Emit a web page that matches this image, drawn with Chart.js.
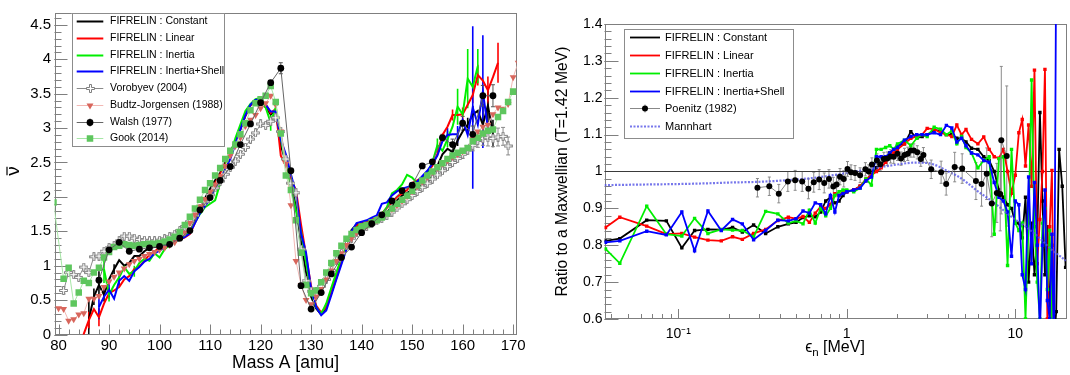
<!DOCTYPE html>
<html>
<head>
<meta charset="utf-8">
<title>Neutron multiplicity and spectrum ratio</title>
<script src="https://cdn.jsdelivr.net/npm/chart.js@4.4.1/dist/chart.umd.min.js"></script>
<style>
  body { margin: 0; background: #fff; }
  #page { position: relative; width: 1070px; height: 375px; }
  #massChart { position: absolute; left: 0; top: 0; }
  #ratioChart { position: absolute; left: 540px; top: 0; }
</style>
</head>
<body>
<div id="page">
  <canvas id="massChart" width="540" height="375"></canvas>
  <canvas id="ratioChart" width="530" height="375"></canvas>
</div>
<script>
// ---------- left panel : nu-bar versus fragment mass ----------
const massA = [79,80,81,82,83,84,85,86,87,88,89,90,91,92,93,94,95,96,97,98,99,100,101,102,103,104,105,106,107,108,
  109,110,111,112,113,114,115,116,117,118,119,120,121,122,123,124,125,126,127,128,129,130,131,132,133,134,135,136,137,138,
  139,140,141,142,143,144,145,146,147,148,149,150,151,152,153,154,155,156,157,158,159,160,161,162,163,164,165,166,167,168,
  169,170,171];

const constantNu = [null,null,null,null,null,null,null,0.22,0.55,0.72,
  0.58,0.80,0.95,1.08,1.00,1.04,1.14,1.14,1.21,1.26,
  1.27,1.28,1.30,1.33,1.36,1.39,1.42,1.48,1.65,1.82,
  1.98,2.12,2.24,2.35,2.50,2.65,2.80,2.98,3.18,3.33,
  3.40,3.38,3.30,3.20,3.25,2.75,2.50,2.20,1.85,1.35,
  0.90,0.55,0.38,0.29,0.40,0.60,0.84,1.06,1.28,1.52,
  1.60,1.62,1.63,1.65,1.68,1.72,1.78,1.85,1.95,2.02,
  2.06,2.10,2.12,2.18,2.22,2.30,2.45,2.62,2.70,2.65,
  2.82,2.95,3.05,3.20,3.25,3.05,3.33,2.92,null,null,
  null,null,null];
const linearNu = [null,null,null,null,null,-0.30,0.01,0.21,0.37,0.25,
  0.45,0.60,0.64,0.69,0.80,0.85,0.95,0.99,1.07,1.16,
  1.21,1.26,1.28,1.31,1.35,1.38,1.41,1.46,1.62,1.78,
  1.92,2.06,2.20,2.33,2.47,2.62,2.80,2.99,3.18,3.33,
  3.40,3.40,3.35,3.22,3.28,2.60,2.45,2.25,2.10,1.60,
  1.15,0.70,0.42,0.32,0.40,0.60,0.82,1.05,1.25,1.45,
  1.58,1.62,1.64,1.67,1.70,1.76,1.84,1.92,2.00,2.05,
  2.10,2.20,2.24,2.28,2.36,2.45,2.62,2.90,3.02,3.19,
  3.19,3.20,3.34,3.48,3.77,3.69,3.55,3.74,3.95,null,
  null,null,null];
const inertiaNu = [null,null,null,null,null,null,null,null,null,null,
  0.95,0.58,0.72,0.83,0.98,0.88,0.92,1.04,1.10,1.07,
  1.18,1.12,1.24,1.30,1.34,1.38,1.44,1.50,1.63,1.75,
  1.85,1.90,1.95,2.20,2.45,2.62,2.85,3.05,3.25,3.35,
  3.42,3.44,3.30,3.08,3.30,2.85,2.50,2.15,1.80,1.50,
  1.05,0.62,0.40,0.30,0.45,0.68,0.90,1.12,1.30,1.45,
  1.55,1.60,1.62,1.64,1.68,1.75,1.85,2.05,2.10,2.18,
  2.32,2.28,2.20,2.25,2.35,2.50,2.75,2.67,2.84,3.02,
  3.31,3.20,3.72,3.60,3.90,null,null,null,null,null,
  null,null,null];
const shellNu = [null,null,null,null,null,null,null,null,null,0.40,
  0.55,0.65,0.52,0.78,0.85,0.78,0.92,0.98,1.06,1.10,
  1.18,1.22,1.27,1.31,1.35,1.38,1.42,1.47,1.62,1.76,
  1.87,1.97,2.12,2.26,2.41,2.55,2.77,2.98,3.19,3.34,
  3.41,3.42,3.34,3.24,3.24,2.83,2.62,2.33,2.05,1.47,
  1.19,0.66,0.40,0.28,0.35,0.57,0.80,1.02,1.24,1.50,
  1.62,1.64,1.66,1.70,1.73,1.90,1.92,2.02,2.08,2.12,
  2.14,2.16,2.22,2.30,2.38,2.48,2.60,2.81,2.90,2.91,
  2.91,3.12,2.90,3.30,3.05,3.53,3.00,null,null,null,
  null,null,null];
const vorobyevNu = [null,null,0.64,0.90,0.87,0.83,0.98,0.90,1.13,1.14,
  1.21,1.26,1.29,1.36,1.43,1.43,1.40,1.38,1.37,1.36,
  1.36,1.37,1.39,1.42,1.46,1.51,1.57,1.64,1.73,1.83,
  1.93,2.03,2.13,2.23,2.33,2.43,2.52,2.62,2.72,2.84,
  2.93,3.06,3.04,3.10,3.15,2.95,2.55,2.20,2.06,1.24,
  0.78,0.63,0.62,0.70,0.80,0.93,1.07,1.18,1.30,1.40,
  1.48,1.53,1.57,1.61,1.65,1.69,1.73,1.78,1.84,1.90,
  1.96,2.02,2.08,2.14,2.20,2.26,2.32,2.38,2.44,2.50,
  2.56,2.62,2.68,2.75,2.82,2.85,2.86,2.85,2.87,2.88,
  2.74,null,null];
const budtzNu = [null,0.38,0.37,0.20,0.22,0.29,0.31,0.52,0.52,0.56,
  0.69,0.77,0.84,0.90,0.96,1.02,1.07,1.10,1.14,1.17,
  1.20,1.23,1.26,1.30,1.34,1.40,1.48,1.62,1.74,1.86,
  1.97,2.07,2.18,2.30,2.45,2.60,2.74,2.86,3.03,3.12,
  3.19,3.29,3.36,3.47,3.34,2.95,2.48,1.88,1.07,0.72,
  0.50,0.44,0.55,0.66,0.80,0.93,1.07,1.18,1.30,1.40,
  1.48,1.54,1.58,1.62,1.66,1.71,1.76,1.82,1.88,1.94,
  2.01,2.08,2.15,2.22,2.29,2.36,2.42,2.48,2.53,2.58,
  2.62,2.66,2.72,2.84,2.95,3.02,3.05,3.20,3.30,3.28,
  3.35,3.74,3.95];
const gookNu = [1.92,null,0.81,0.97,0.45,0.61,0.78,0.75,0.90,0.97,
  1.12,1.20,1.27,1.29,1.31,1.30,1.29,1.30,1.31,1.32,
  1.32,1.33,1.35,1.38,1.42,1.49,1.59,1.71,1.83,1.96,
  2.10,2.20,2.31,2.42,2.55,2.67,2.76,2.91,3.07,3.26,
  3.36,3.42,3.47,3.61,3.38,2.92,2.31,2.10,1.66,1.19,
  0.72,0.60,0.64,0.76,0.90,1.04,1.18,1.29,1.39,1.46,
  1.52,1.57,1.59,1.63,1.66,1.70,1.76,1.83,1.90,1.96,
  2.02,2.09,2.17,2.24,2.31,2.37,2.43,2.49,2.55,2.60,
  2.64,2.67,2.71,2.81,2.86,2.92,2.96,2.98,3.16,3.25,
  3.38,3.53,null];
const walshA = [88,90,92,94,96,98,100,102,104,106,108,110,112,114,116,118,120,122,124,126,
  128,130,132,134,136,138,140,142,144,146,148,150,152,154,156,158,160,162,164,166];
const walshNu = [0.79,1.23,1.34,1.21,1.24,1.26,1.28,1.31,1.40,1.51,1.81,1.99,2.24,2.44,2.76,3.06,3.37,3.66,3.87,2.38,
  0.71,0.37,0.61,0.88,1.12,1.27,1.48,1.61,1.74,1.94,2.09,2.17,2.45,2.51,2.86,2.76,3.07,2.91,3.47,3.47];

// visible error bars: [A, half-length]
const constantErr = [[86,0.27],[87,0.12],[88,0.2],[89,0.1],[91,0.07],[159,0.08],[161,0.1],[162,0.12],[164,0.3],[165,0.25],[166,0.2]];
const linearErr = [[84,0.3],[86,0.12],[88,0.13],[90,0.08],[158,0.08],[160,0.1],[162,0.12],[163,0.15],[165,0.2],[167,0.29]];
const inertiaErr = [[89,0.2],[90,0.1],[95,0.08],[122,0.12],[155,0.1],[157,0.12],[159,0.26],[161,0.43],[163,0.25]];
const shellErr = [[88,0.18],[90,0.1],[92,0.08],[124,0.1],[157,0.1],[159,0.12],[162,1.18],[164,0.82]];
const vorobyevErr = [[81,0.05],[90,0.03],[100,0.03],[160,0.06],[162,0.08],[163,0.1],[164,0.1],[165,0.12],[166,0.12],[167,0.13],[168,0.13],[169,0.13]];
const walshErr = [[124,0.08],[156,0.05],[158,0.08],[160,0.1],[162,0.12],[164,0.15],[166,0.16]];

const massTicks = [80,90,100,110,120,130,140,150,160,170];
const nuTicks = [0,0.5,1,1.5,2,2.5,3,3.5,4,4.5];

// ---------- right panel : PFNS ratio to a Maxwellian ----------
const energyGrid = [0.037,0.045,0.065,0.085,0.105,0.125,0.15,0.18,0.21,0.24,
  0.28,0.33,0.39,0.45,0.5,0.55,0.6,0.65,0.7,0.75,
  0.8,0.85,0.9,0.95,1.0,1.1,1.2,1.3,1.4,1.5,
  1.6,1.7,1.8,1.9,2.0,2.2,2.4,2.6,2.8,3.0,
  3.3,3.6,3.9,4.2,4.5,4.8,5.1,5.5,6.0,6.5,
  7.0,7.5,8.0,8.5,9.0,9.5,10.0,10.5,11.0,11.5,
  12.0,12.5,13.0,13.5,14.0,14.5,15.0,15.5,16.0,16.5,
  17.0,17.5,18.2,19.0,19.9];
const constantRatio = [0.812,0.818,0.868,0.866,0.793,0.840,0.843,0.842,0.848,0.836,
  0.855,0.832,0.850,0.858,0.862,0.875,0.880,0.877,0.890,0.920,
  0.930,0.915,0.920,0.935,0.945,0.950,0.960,0.975,0.990,1.010,
  1.020,1.035,1.050,1.060,1.070,1.075,1.108,1.090,1.095,1.100,
  1.113,1.110,1.100,1.100,1.090,1.090,1.080,1.063,1.060,1.040,
  1.030,1.000,0.950,0.930,0.910,0.900,0.86,0.86,0.82,0.93,
  0.70,0.86,0.72,0.82,1.16,0.92,0.72,0.85,0.60,0.80,
  0.55,0.62,1.06,0.96,0.74];
const linearRatio = [0.848,0.876,0.852,0.830,0.832,0.822,0.814,0.812,0.823,0.816,
  0.832,0.843,0.867,0.876,0.872,0.878,0.862,0.887,0.905,0.900,
  0.910,0.940,0.935,0.945,0.945,0.950,0.960,0.980,0.990,1.000,
  1.010,1.025,1.040,1.050,1.060,1.075,1.090,1.095,1.100,1.117,
  1.115,1.105,1.100,1.095,1.126,1.100,1.114,1.087,1.075,1.094,
  1.060,1.040,1.036,1.060,1.000,0.941,0.990,1.105,1.141,1.015,
  1.126,0.960,1.275,0.750,0.870,1.000,1.277,0.600,0.850,1.003,
  0.500,null,null,null,null];
const inertiaRatio = [0.790,0.751,0.906,0.830,0.825,0.873,0.832,0.843,0.841,0.840,
  0.823,0.892,0.885,0.860,0.866,0.858,0.895,0.860,0.900,0.880,
  0.900,0.935,0.945,0.950,0.950,0.945,0.955,0.980,0.963,1.060,
  1.060,1.065,1.070,1.060,1.075,1.085,1.070,1.090,1.100,1.095,
  1.120,1.115,1.100,1.110,1.075,1.095,1.065,1.050,1.010,1.030,
  1.040,0.830,1.035,1.040,0.745,1.060,0.86,0.84,0.86,0.60,
  0.86,1.248,0.85,0.70,0.60,0.86,0.90,0.68,0.84,0.58,
  0.55,null,null,null,null];
const shellRatio = [0.808,0.812,0.838,0.828,0.890,0.785,0.893,0.840,0.870,0.858,
  0.815,0.840,0.868,0.866,0.872,0.893,0.887,0.915,0.910,0.885,
  0.935,0.890,0.935,0.940,0.945,0.950,0.955,0.975,0.985,1.040,
  1.040,1.040,1.050,1.060,1.065,1.085,1.095,1.100,1.100,1.100,
  1.105,1.100,1.125,1.118,1.080,1.090,1.070,1.050,1.045,1.030,
  1.025,0.970,0.930,0.920,0.890,0.770,0.92,0.91,0.72,0.68,
  0.985,0.75,0.97,0.80,0.56,0.80,0.95,0.65,0.60,0.83,
  0.50,1.60,null,null,null];
const poenitzE = [0.295,0.347,0.395,0.447,0.494,0.544,0.592,0.637,0.686,0.735,
  0.784,0.832,0.87,0.912,0.96,1.01,1.06,1.12,1.2,1.29,
  1.35,1.41,1.51,1.58,1.66,1.74,1.82,1.9,2.0,2.1,
  2.2,2.3,2.4,2.5,2.62,2.75,2.85,3.17,3.63,3.89,
  4.37,4.84,5.84,6.31,6.77,7.25,7.77,8.14,8.26,8.9];
const poenitzR = [0.956,0.960,0.940,0.973,0.976,0.973,0.953,0.971,0.978,0.969,
  0.980,0.959,0.965,0.986,0.980,1.007,0.998,0.996,0.990,1.006,
  1.000,1.019,1.030,1.020,1.034,1.035,1.041,1.040,1.048,1.035,
  1.045,1.048,1.057,1.057,1.052,1.034,1.045,1.006,0.998,0.966,
  1.012,1.008,0.974,0.966,0.994,0.913,0.942,0.939,1.085,1.042];
const poenitzErr = [0.025,0.025,0.025,0.027,0.027,0.027,0.027,0.027,0.027,0.027,
  0.025,0.025,0.025,0.022,0.022,0.02,0.02,0.02,0.02,0.018,
  0.018,0.018,0.018,0.018,0.018,0.018,0.018,0.018,0.018,0.018,
  0.018,0.018,0.018,0.018,0.018,0.02,0.02,0.025,0.03,0.03,
  0.04,0.04,0.05,0.06,0.07,0.09,0.08,0.1,0.2,0.19];
const mannhartE = [0.0365,0.05,0.07,0.1,0.15,0.2,0.3,0.4,0.5,0.7,1.0,1.3,1.6,2.0,2.5,
  3.0,3.5,4.0,4.6,5.3,6.0,7.0,8.0,9.5,11,12.6,14.5,16.5,18.6,20];
const mannhartR = [0.963,0.964,0.965,0.966,0.968,0.970,0.972,0.975,0.978,0.985,0.996,1.005,1.012,1.019,1.024,
  1.023,1.014,1.000,0.986,0.966,0.946,0.925,0.905,0.877,0.857,0.837,0.812,0.787,0.769,0.758];
const unityE = [0.0365, 20];
const unityR = [1, 1];

const energyTicks = [0.1, 1, 10];
const ratioTicks = [0.6,0.7,0.8,0.9,1,1.1,1.2,1.3,1.4];

// ---------- helpers ----------
const FONT = '"Liberation Sans", Arial, Helvetica, sans-serif';
Chart.defaults.font.family = FONT;
Chart.defaults.color = '#000';

function pairs(xs, ys) {
  return xs.map((x, i) => ({ x: x, y: ys[i] })).filter(p => p.y !== null);
}

// ROOT style open cross marker
function openCross(size, col) {
  const c = document.createElement('canvas');
  c.width = c.height = size;
  const g = c.getContext('2d');
  const a = Math.floor(size / 2) - 1 + 0.5, b = Math.floor(size / 2) + 1 + 0.5, e = size - 0.5;
  g.beginPath();
  g.moveTo(a, 0.5); g.lineTo(b, 0.5); g.lineTo(b, a); g.lineTo(e, a); g.lineTo(e, b); g.lineTo(b, b);
  g.lineTo(b, e); g.lineTo(a, e); g.lineTo(a, b); g.lineTo(0.5, b); g.lineTo(0.5, a); g.lineTo(a, a);
  g.closePath();
  g.fillStyle = '#fff'; g.fill();
  g.strokeStyle = col; g.lineWidth = 1; g.stroke();
  return c;
}

function drawMarker(ctx, ds, x, y) {
  const r = ds.pointRadius;
  if (!r || ds.legendMarker === false) return;
  const st = ds.pointStyle;
  if (st instanceof HTMLCanvasElement) { ctx.drawImage(st, Math.round(x - st.width / 2), Math.round(y - st.height / 2)); return; }
  ctx.fillStyle = ds.pointBackgroundColor;
  ctx.beginPath();
  if (st === 'rect') {
    const h = r * Math.SQRT1_2;
    ctx.rect(x - h, y - h, 2 * h, 2 * h);
  } else if (st === 'triangle') {
    ctx.moveTo(x, y + r); ctx.lineTo(x + r * 0.866, y - r / 2); ctx.lineTo(x - r * 0.866, y - r / 2); ctx.closePath();
  } else {
    ctx.arc(x, y, r, 0, Math.PI * 2);
  }
  ctx.fill();
}

// error bars below the curves
const errorBars = {
  id: 'errorBars',
  beforeDatasetsDraw(chart) {
    const { ctx, chartArea: a } = chart;
    const xs = chart.scales.x, ys = chart.scales.y;
    ctx.save();
    ctx.beginPath(); ctx.rect(a.left, a.top, a.right - a.left, a.bottom - a.top); ctx.clip();
    chart.data.datasets.forEach(ds => {
      if (!ds.errors) return;
      ctx.strokeStyle = ds.errorColor || ds.borderColor;
      ctx.lineWidth = ds.errorWidth || 1;
      const cap = ds.errorCap || 0;
      ds.errors.forEach(([xv, e]) => {
        const pt = ds.data.find(p => p.x === xv);
        if (!pt) return;
        const px = xs.getPixelForValue(xv);
        const y1 = ys.getPixelForValue(pt.y - e), y2 = ys.getPixelForValue(pt.y + e);
        ctx.beginPath();
        ctx.moveTo(px, y1); ctx.lineTo(px, y2);
        if (cap) { ctx.moveTo(px - cap, y1); ctx.lineTo(px + cap, y1); ctx.moveTo(px - cap, y2); ctx.lineTo(px + cap, y2); }
        ctx.stroke();
      });
    });
    ctx.restore();
  }
};

// frame and inward ticks
const rootAxes = {
  id: 'rootAxes',
  beforeDatasetsDraw(chart, args, o) {
    const { ctx, chartArea: a } = chart;
    const xs = chart.scales.x, ys = chart.scales.y;
    ctx.save();
    ctx.strokeStyle = o.color; ctx.lineWidth = 1;
    ctx.strokeRect(Math.round(a.left) + 0.5, Math.round(a.top) + 0.5, Math.round(a.right - a.left) - 1, Math.round(a.bottom - a.top) - 1);
    ctx.beginPath();
    const xt = (v, len) => {
      if (v < xs.min || v > xs.max) return;
      const p = Math.round(xs.getPixelForValue(v)) + 0.5;
      ctx.moveTo(p, a.bottom); ctx.lineTo(p, a.bottom - len);
    };
    const yt = (v, len) => {
      if (v < ys.min || v > ys.max) return;
      const p = Math.round(ys.getPixelForValue(v)) + 0.5;
      ctx.moveTo(a.left, p); ctx.lineTo(a.left + len, p);
    };
    o.xMinor.forEach(v => xt(v, o.xLen[1]));
    o.xMajor.forEach(v => xt(v, o.xLen[0]));
    o.yMinor.forEach(v => yt(v, o.yLen[1]));
    o.yMajor.forEach(v => yt(v, o.yLen[0]));
    ctx.stroke();
    ctx.restore();
  }
};

// legend box inside the frame
const rootLegend = {
  id: 'rootLegend',
  afterDatasetsDraw(chart, args, o) {
    const ctx = chart.ctx;
    const [x0, y0, x1, y1] = o.box;
    ctx.save();
    ctx.fillStyle = '#fff'; ctx.fillRect(x0, y0, x1 - x0, y1 - y0);
    ctx.strokeStyle = '#8c8c8c'; ctx.lineWidth = 1;
    ctx.strokeRect(Math.round(x0) + 0.5, Math.round(y0) + 0.5, Math.round(x1 - x0), Math.round(y1 - y0));
    o.items.forEach((idx, k) => {
      const ds = chart.data.datasets[idx];
      const y = Math.round(o.y0 + k * o.dy) + 0.5;
      ctx.strokeStyle = ds.borderColor; ctx.lineWidth = ds.borderWidth;
      ctx.setLineDash(ds.borderDash || []);
      ctx.beginPath(); ctx.moveTo(o.lx0, y); ctx.lineTo(o.lx1, y); ctx.stroke();
      ctx.setLineDash([]);
      if (ds.errors && ds.pointRadius) {
        ctx.strokeStyle = ds.errorColor || ds.borderColor; ctx.lineWidth = 1;
        ctx.beginPath(); ctx.moveTo((o.lx0 + o.lx1) / 2, y - 4); ctx.lineTo((o.lx0 + o.lx1) / 2, y + 4); ctx.stroke();
      }
      drawMarker(ctx, ds, (o.lx0 + o.lx1) / 2, y);
      ctx.fillStyle = '#000'; ctx.font = o.font; ctx.textBaseline = 'middle'; ctx.textAlign = 'left';
      ctx.fillText(ds.label, o.tx, y);
    });
    ctx.restore();
  }
};

// axis titles (with sub/overline pieces)
const axisTitles = {
  id: 'axisTitles',
  afterDraw(chart, args, o) {
    const ctx = chart.ctx;
    o.items.forEach(it => {
      ctx.save();
      ctx.translate(it.x, it.y);
      if (it.rot) ctx.rotate(it.rot);
      ctx.fillStyle = '#000'; ctx.textBaseline = 'alphabetic'; ctx.textAlign = 'left';
      let w = 0;
      it.parts.forEach(p => { ctx.font = p.size + 'px ' + FONT; p.w = ctx.measureText(p.t).width; w += p.w; });
      let cx = -w / 2;
      it.parts.forEach(p => {
        ctx.font = p.size + 'px ' + FONT;
        ctx.fillText(p.t, cx, p.dy || 0);
        if (p.bar) {
          ctx.strokeStyle = '#000'; ctx.lineWidth = 1.2;
          ctx.beginPath(); ctx.moveTo(cx + 0.5, -p.bar); ctx.lineTo(cx + p.w - 0.5, -p.bar); ctx.stroke();
        }
        cx += p.w;
      });
      ctx.restore();
    });
  }
};

Chart.register(errorBars, rootAxes, rootLegend, axisTitles);

const massMinor = [];
for (let v = 80; v <= 170; v += 2) massMinor.push(v);
const nuMinor = [];
for (let k = 0; k <= 46; k++) nuMinor.push(k / 10);
const energyMinor = [];
[0.01, 0.1, 1, 10].forEach(d => { for (let m = 2; m <= 9; m++) energyMinor.push(d * m); });
const ratioMinor = [];
for (let k = 30; k <= 70; k++) ratioMinor.push(k / 50);

// ---------- left chart ----------
new Chart(document.getElementById('massChart'), {
  type: 'line',
  data: {
    datasets: [
      { label: 'FIFRELIN : Constant', data: pairs(massA, constantNu), borderColor: '#000000', borderWidth: 2,
        pointRadius: 0, errors: constantErr, errorWidth: 1.6, order: 8 },
      { label: 'FIFRELIN : Linear', data: pairs(massA, linearNu), borderColor: '#ff0000', borderWidth: 2,
        pointRadius: 0, errors: linearErr, errorWidth: 1.6, order: 7 },
      { label: 'FIFRELIN : Inertia', data: pairs(massA, inertiaNu), borderColor: '#00ee00', borderWidth: 2,
        pointRadius: 0, errors: inertiaErr, errorWidth: 1.6, order: 6 },
      { label: 'FIFRELIN : Inertia+Shell', data: pairs(massA, shellNu), borderColor: '#0000ff', borderWidth: 2,
        pointRadius: 0, errors: shellErr, errorWidth: 1.6, order: 5 },
      { label: 'Vorobyev (2004)', data: pairs(massA, vorobyevNu), borderColor: '#8a8a8a', borderWidth: 1,
        pointStyle: openCross(9, '#808080'), pointRadius: 4.5, errors: vorobyevErr, errorColor: '#8a8a8a', errorCap: 2, order: 4 },
      { label: 'Budtz-Jorgensen (1988)', data: pairs(massA, budtzNu), borderColor: '#f2b8b4', borderWidth: 1,
        pointStyle: 'triangle', pointRotation: 180, pointRadius: 4, pointBackgroundColor: '#d8665c',
        pointBorderColor: '#d8665c', pointBorderWidth: 0, order: 3 },
      { label: 'Walsh (1977)', data: pairs(walshA, walshNu), borderColor: '#666666', borderWidth: 1,
        pointStyle: 'circle', pointRadius: 3.4, pointBackgroundColor: '#000', pointBorderColor: '#000', pointBorderWidth: 0,
        errors: walshErr, errorColor: '#555', errorCap: 2, order: 1 },
      { label: 'Gook (2014)', data: pairs(massA, gookNu), borderColor: '#a6e6a6', borderWidth: 1,
        pointStyle: 'rect', pointRadius: 4.6, pointBackgroundColor: '#5ec65e', pointBorderColor: '#5ec65e', pointBorderWidth: 0, order: 2 }
    ]
  },
  options: {
    responsive: false, animation: false, events: [],
    layout: { padding: { left: 0, right: 23.3, top: 7.5, bottom: 0 } },
    plugins: {
      legend: { display: false }, tooltip: { enabled: false },
      rootAxes: { color: '#7f7f7f', xMajor: massTicks, xMinor: massMinor, yMajor: nuTicks, yMinor: nuMinor, xLen: [10, 5], yLen: [13, 7] },
      rootLegend: { box: [71.7, 13.3, 224, 146.7], items: [0, 1, 2, 3, 4, 5, 6, 7], y0: 21, dy: 16.75,
        lx0: 76.7, lx1: 103.3, tx: 110, font: '10.5px ' + FONT },
      axisTitles: { items: [
        { x: 285.6, y: 368, parts: [{ t: 'Mass A [amu]', size: 17.5 }] },
        { x: 19, y: 171, rot: -Math.PI / 2, parts: [{ t: 'ν', size: 19, bar: 12 }] }
      ] }
    },
    scales: {
      x: {
        type: 'linear', min: 79.2, max: 170.7,
        grid: { display: false, drawTicks: false }, border: { display: false },
        afterBuildTicks: s => { s.ticks = massTicks.map(v => ({ value: v })); },
        afterFit: s => { s.height = 40.5; },
        ticks: { autoSkip: false, maxRotation: 0, padding: 2, font: { size: 15 }, color: '#000', callback: v => String(v) }
      },
      y: {
        type: 'linear', min: 0, max: 4.68,
        grid: { display: false, drawTicks: false }, border: { display: false },
        afterBuildTicks: s => { s.ticks = nuTicks.map(v => ({ value: v })); },
        afterFit: s => { s.width = 54.5; },
        ticks: { autoSkip: false, padding: 3.5, font: { size: 15 }, color: '#000', callback: v => String(v) }
      }
    }
  }
});

// ---------- right chart ----------
new Chart(document.getElementById('ratioChart'), {
  type: 'line',
  data: {
    datasets: [
      { label: 'FIFRELIN : Constant', data: pairs(energyGrid, constantRatio), borderColor: '#000000', borderWidth: 1.8,
        pointStyle: 'rect', pointRadius: 2.4, pointBackgroundColor: '#000000', pointBorderWidth: 0, legendMarker: false, order: 8 },
      { label: 'FIFRELIN : Linear', data: pairs(energyGrid, linearRatio), borderColor: '#ff0000', borderWidth: 1.8,
        pointStyle: 'rect', pointRadius: 2.4, pointBackgroundColor: '#ff0000', pointBorderWidth: 0, legendMarker: false, order: 7 },
      { label: 'FIFRELIN : Inertia', data: pairs(energyGrid, inertiaRatio), borderColor: '#00ee00', borderWidth: 1.8,
        pointStyle: 'rect', pointRadius: 2.4, pointBackgroundColor: '#00ee00', pointBorderWidth: 0, legendMarker: false, order: 6 },
      { label: 'FIFRELIN : Inertia+Shell', data: pairs(energyGrid, shellRatio), borderColor: '#0000ff', borderWidth: 1.8,
        pointStyle: 'rect', pointRadius: 2.4, pointBackgroundColor: '#0000ff', pointBorderWidth: 0, legendMarker: false, order: 5 },
      { label: 'Poenitz (1982)', data: pairs(poenitzE, poenitzR), borderColor: '#888888', borderWidth: 1,
        pointStyle: 'circle', pointRadius: 3, pointBackgroundColor: '#000', pointBorderColor: '#000', pointBorderWidth: 0,
        errors: poenitzE.map((e, i) => [e, poenitzErr[i]]), errorColor: '#8a8a8a', errorCap: 1.5, order: 2 },
      { label: 'Mannhart', data: pairs(mannhartE, mannhartR), borderColor: 'rgba(85,85,230,0.8)', borderWidth: 2.2,
        borderDash: [2, 1.5], pointRadius: 0, cubicInterpolationMode: 'monotone', order: 3 },
      { label: '', data: pairs(unityE, unityR), borderColor: '#3a3a3a', borderWidth: 1, pointRadius: 0, order: 9 }
    ]
  },
  options: {
    responsive: false, animation: false, events: [],
    layout: { padding: { left: 0, right: 2.5, top: 24, bottom: 0 } },
    plugins: {
      legend: { display: false }, tooltip: { enabled: false },
      rootAxes: { color: '#7f7f7f', xMajor: energyTicks, xMinor: energyMinor, yMajor: ratioTicks, yMinor: ratioMinor, xLen: [10, 5], yLen: [14, 7] },
      rootLegend: { box: [84, 29, 253, 137.5], items: [0, 1, 2, 3, 4, 5], y0: 37, dy: 17.85,
        lx0: 90, lx1: 120, tx: 125, font: '11px ' + FONT },
      axisTitles: { items: [
        { x: 295, y: 352, parts: [{ t: 'ϵ', size: 16 }, { t: 'n', size: 11.5, dy: 4 }, { t: ' [MeV]', size: 16 }] },
        { x: 27, y: 171.5, rot: -Math.PI / 2, parts: [{ t: 'Ratio to a Maxwellian (T=1.42 MeV)', size: 15.7 }] }
      ] }
    },
    scales: {
      x: {
        type: 'logarithmic', min: 0.0365, max: 20,
        grid: { display: false, drawTicks: false }, border: { display: false },
        afterBuildTicks: s => { s.ticks = energyTicks.map(v => ({ value: v })); },
        afterFit: s => { s.height = 56; },
        ticks: { autoSkip: false, maxRotation: 0, padding: 7, font: { size: 14 }, color: '#000',
          callback: v => (v === 0.1 ? '10\u207B\u00B9' : String(v)) }
      },
      y: {
        type: 'linear', min: 0.6, max: 1.4,
        grid: { display: false, drawTicks: false }, border: { display: false },
        afterBuildTicks: s => { s.ticks = ratioTicks.map(v => ({ value: v })); },
        afterFit: s => { s.width = 64.5; },
        ticks: { autoSkip: false, padding: 2, font: { size: 14 }, color: '#000', callback: v => String(v) }
      }
    }
  }
});
</script>
</body>
</html>
